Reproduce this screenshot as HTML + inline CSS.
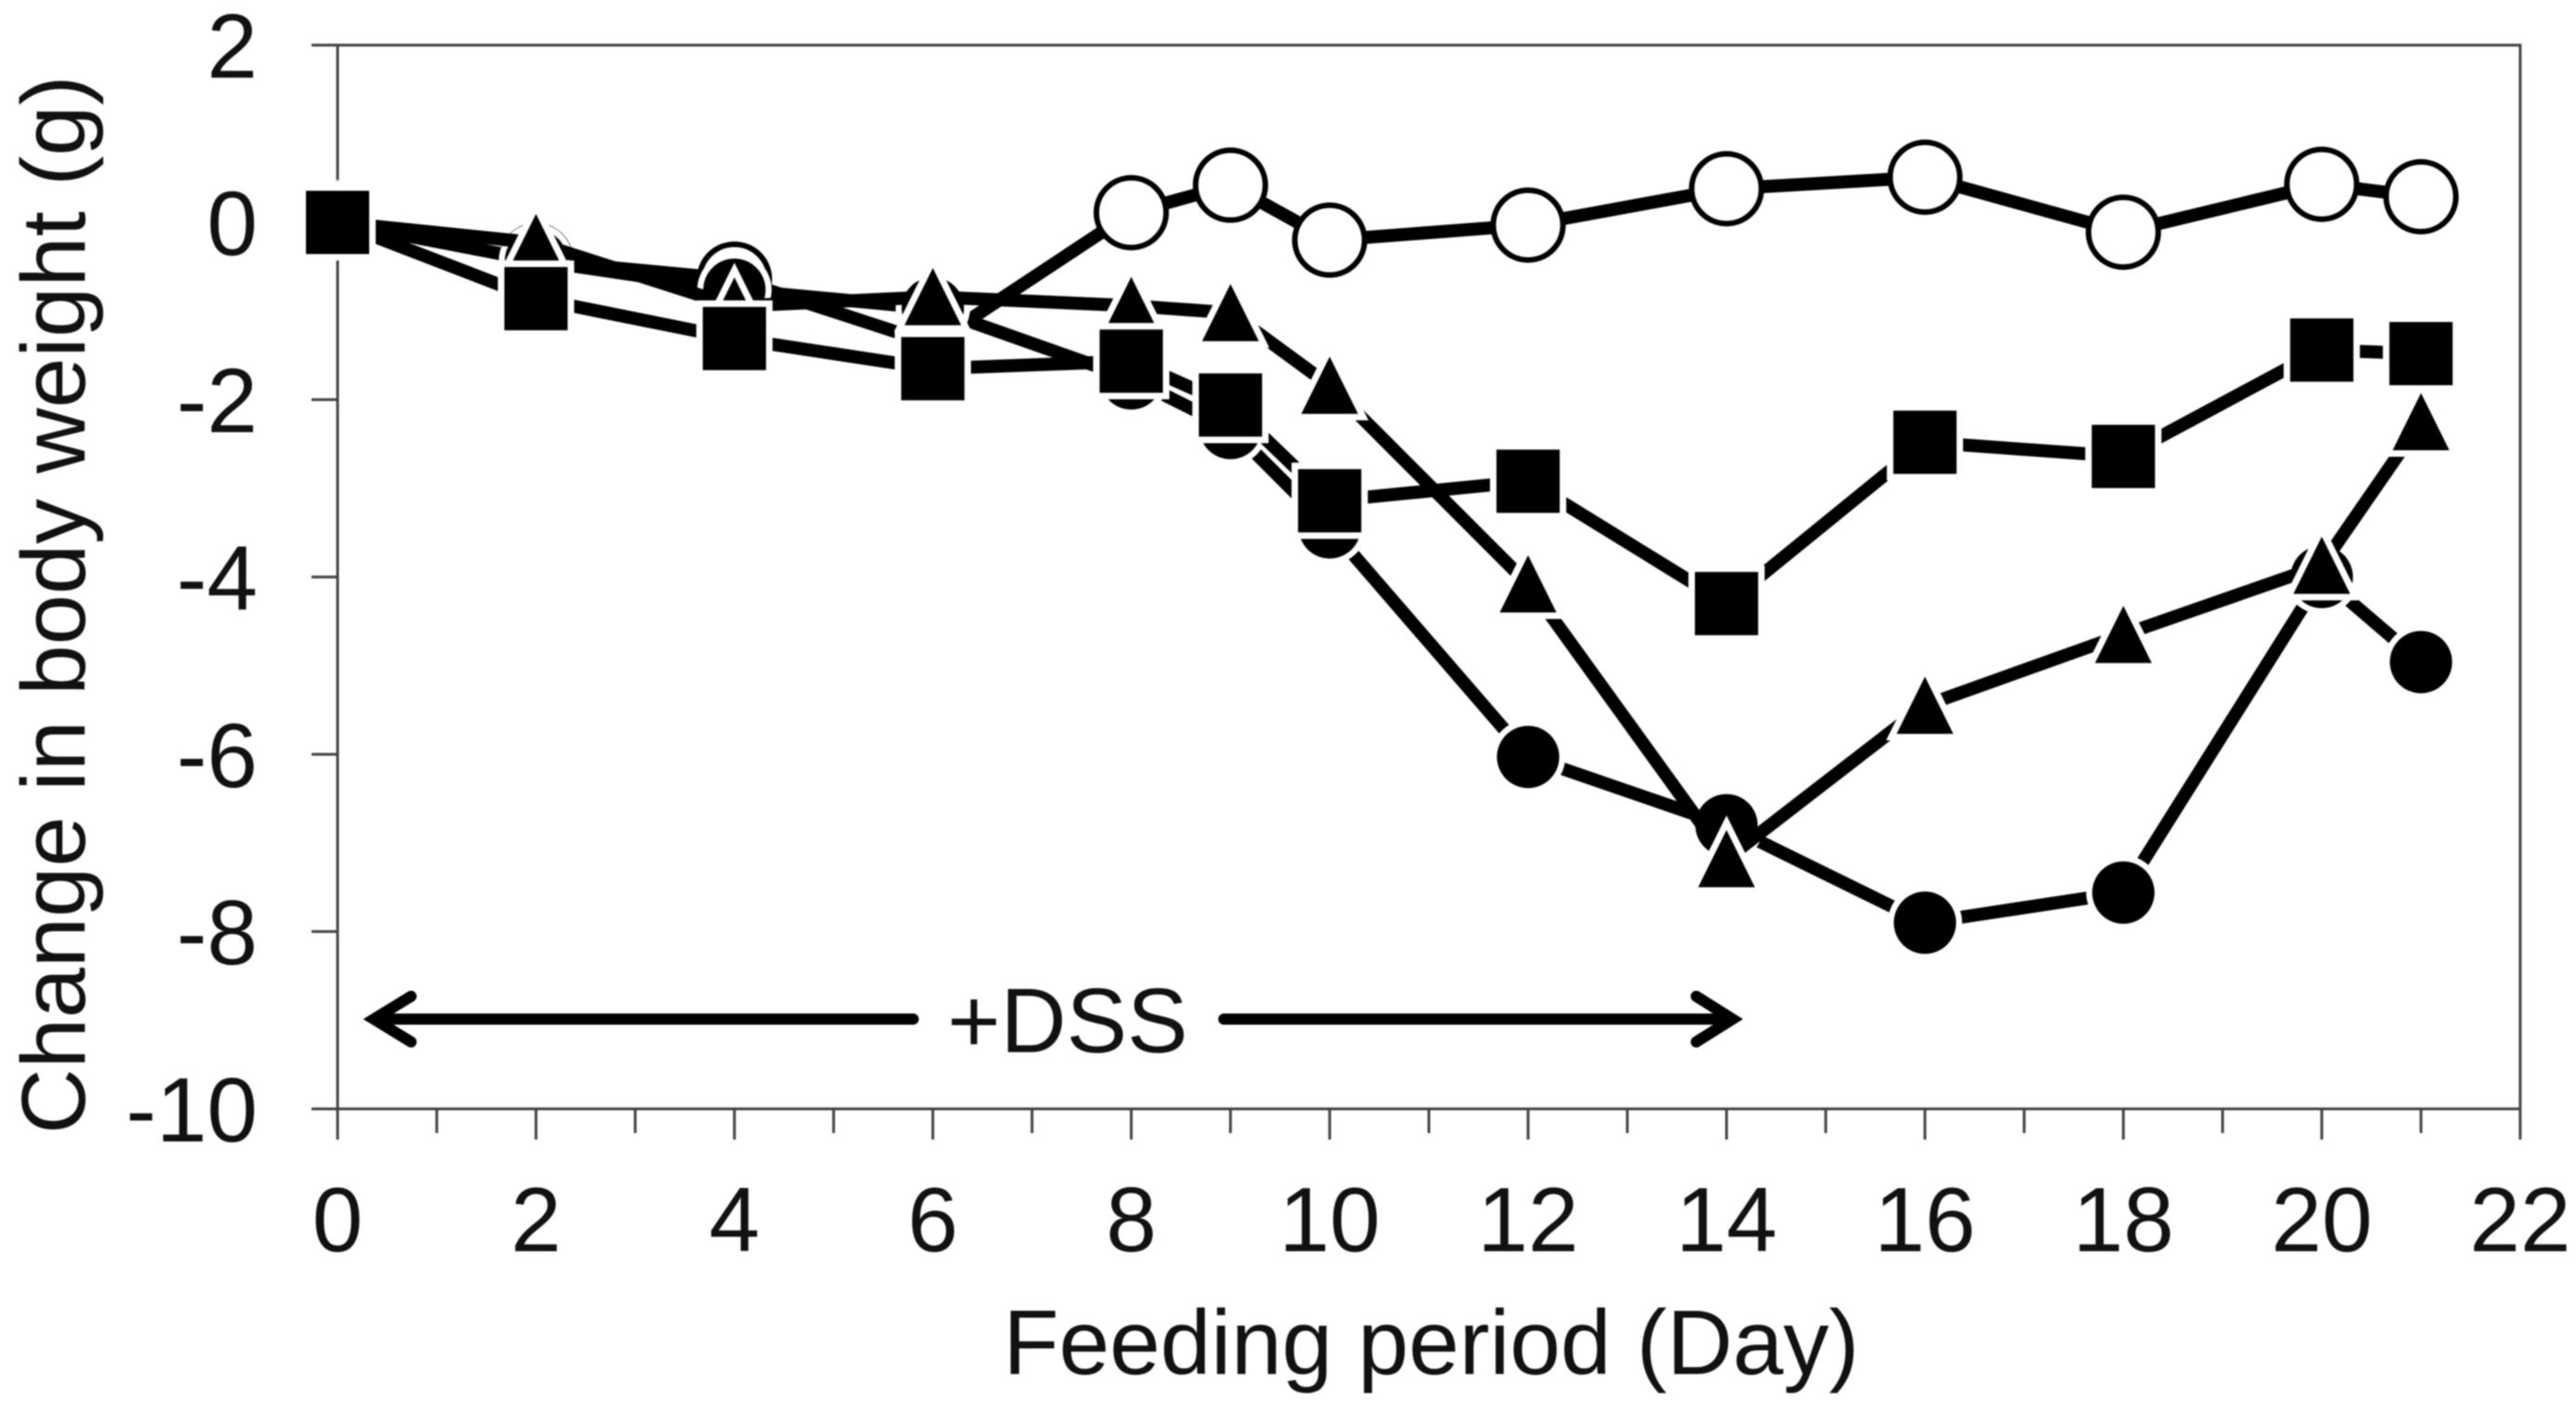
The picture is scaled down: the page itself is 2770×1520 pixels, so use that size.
<!DOCTYPE html>
<html lang="en">
<head>
<meta charset="utf-8">
<title>Change in body weight over feeding period</title>
<style>
html,body{margin:0;padding:0;background:#fff;}
svg{display:block;filter:blur(0.7px);}
text{font-family:"Liberation Sans",Arial,sans-serif;fill:#111;}
</style>
</head>
<body>
<svg id="chart" xmlns="http://www.w3.org/2000/svg" width="2770" height="1520" viewBox="0 0 2770 1520">
  <rect x="0" y="0" width="2770" height="1520" fill="#fff"/>
  <g id="axes"></g>
  <g id="series"></g>
  <g>
    <path d="M982 1095.5H402M442 1071L402 1095.5L442 1120" fill="none" stroke="#000" stroke-width="12" stroke-linecap="round" stroke-linejoin="miter"/>
    <path d="M1316 1095.5H1863M1824 1071L1863 1095.5L1824 1120" fill="none" stroke="#000" stroke-width="12" stroke-linecap="round" stroke-linejoin="miter"/>
    <text x="1148" y="1131" font-size="98" text-anchor="middle">+DSS</text>
  </g>
  <text transform="translate(91 650) rotate(-90)" font-size="97.5" text-anchor="middle">Change in body weight (g)</text>
  <text x="1539" y="1477" font-size="98" text-anchor="middle">Feeding period (Day)</text>
</svg>
<script>
const days = [0, 2, 4, 6, 8, 9, 10, 12, 14, 16, 18, 20, 21];
const openCircleValues = [0, -0.43, -0.64, -1.37, 0.11, 0.42, -0.2, -0.03, 0.38, 0.51, -0.11, 0.43, 0.29];
const filledCircleValues = [0, -0.43, -0.76, -0.97, -1.76, -2.32, -3.44, -6.03, -6.8, -7.9, -7.56, -4.0, -4.96];
const triangleValues = [0, -0.23, -0.945, -0.84, -0.94, -1.02, -1.84, -4.08, -7.18, -5.45, -4.65, -3.87, -2.25];
const squareValues = [0, -0.86, -1.31, -1.65, -1.565, -2.06, -3.14, -2.92, -4.3, -2.48, -2.64, -1.44, -1.48];
const xTickLabels = [0, 2, 4, 6, 8, 10, 12, 14, 16, 18, 20, 22];
const xMinorTicks = [1, 3, 5, 7, 9, 11, 13, 15, 17, 19, 21];
const yTickLabels = [2, 0, -2, -4, -6, -8, -10];

const NS = 'http://www.w3.org/2000/svg';
const left = 363, right = 2710, top_ = 48.5, bottom = 1192;
const xMin = 0, xMax = 22, yMin = -10, yMax = 2;
function xAt(d){ return left + (d - xMin) / (xMax - xMin) * (right - left); }
function yAt(v){ return bottom - (v - yMin) / (yMax - yMin) * (bottom - top_); }
function make(tag, attrs){
  const el = document.createElementNS(NS, tag);
  for (const k in attrs) el.setAttribute(k, attrs[k]);
  return el;
}

const axes = document.getElementById('axes');
const AXIS = '#444';

const frame = make('path', {d:`M${left} ${top_}H${right}V${bottom}H${left}Z`, fill:'none', stroke:AXIS, 'stroke-width':3});


axes.appendChild(frame);

yTickLabels.forEach(function(v){
  const t = make('line', {x1:335, x2:left, y1:yAt(v), y2:yAt(v), stroke:AXIS, 'stroke-width':3});
  
  
  axes.appendChild(t);
  const l = make('text', {x:277, y:yAt(v) + 35, 'font-size':98, 'text-anchor':'end'});
  l.textContent = String(v);
  
  
  axes.appendChild(l);
});

xTickLabels.forEach(function(d){
  const t = make('line', {x1:xAt(d), x2:xAt(d), y1:bottom, y2:1225, stroke:AXIS, 'stroke-width':3});
  
  
  axes.appendChild(t);
  const l = make('text', {x:xAt(d), y:1345, 'font-size':98, 'text-anchor':'middle'});
  l.textContent = String(d);
  
  
  axes.appendChild(l);
});

xMinorTicks.forEach(function(d){
  const t = make('line', {x1:xAt(d), x2:xAt(d), y1:bottom, y2:1218, stroke:AXIS, 'stroke-width':3});
  
  
  axes.appendChild(t);
});

function drawOpenCircle(g, x, y){
  const c = make('circle', {cx:x, cy:y, r:37.5, fill:'#fff', stroke:'#000', 'stroke-width':6});
  
  
  g.appendChild(c);
}
function drawFilledCircle(g, x, y){
  const h = make('circle', {cx:x, cy:y, r:40, fill:'#fff'});
  
  
  g.appendChild(h);
  const d = make('circle', {cx:x, cy:y, r:33.5, fill:'#000'});
  
  
  g.appendChild(d);
}
function drawTriangle(g, x, y){
  const pts = `${x},${y - 31} ${x + 30.5},${y + 30.5} ${x - 30.5},${y + 30.5}`;
  const h = make('polygon', {points:pts, fill:'#fff', stroke:'#fff', 'stroke-width':14, 'stroke-linejoin':'miter'});
  
  
  g.appendChild(h);
  const p = make('polygon', {points:pts, fill:'#000'});
  
  
  g.appendChild(p);
}
function drawSquare(g, x, y){
  const h = make('rect', {x:x - 41, y:y - 41, width:82, height:82, fill:'#fff'});
  
  
  g.appendChild(h);
  const r = make('rect', {x:x - 34, y:y - 34, width:68, height:68, fill:'#000'});
  
  
  g.appendChild(r);
}

function drawSeries(name, values, marker){
  const g = make('g', {});
  
  
  const pts = values.map(function(v, i){ return xAt(days[i]) + ',' + yAt(v); }).join(' ');
  const line = make('polyline', {points:pts, fill:'none', stroke:'#000', 'stroke-width':14, 'stroke-linejoin':'round'});
  
  
  g.appendChild(line);
  values.forEach(function(v, i){ marker(g, xAt(days[i]), yAt(v)); });
  document.getElementById('series').appendChild(g);
}

drawSeries('open-circle-series', openCircleValues, drawOpenCircle);
drawSeries('filled-circle-series', filledCircleValues, drawFilledCircle);
drawSeries('triangle-series', triangleValues, drawTriangle);
drawSeries('square-series', squareValues, drawSquare);
</script>
</body>
</html>
